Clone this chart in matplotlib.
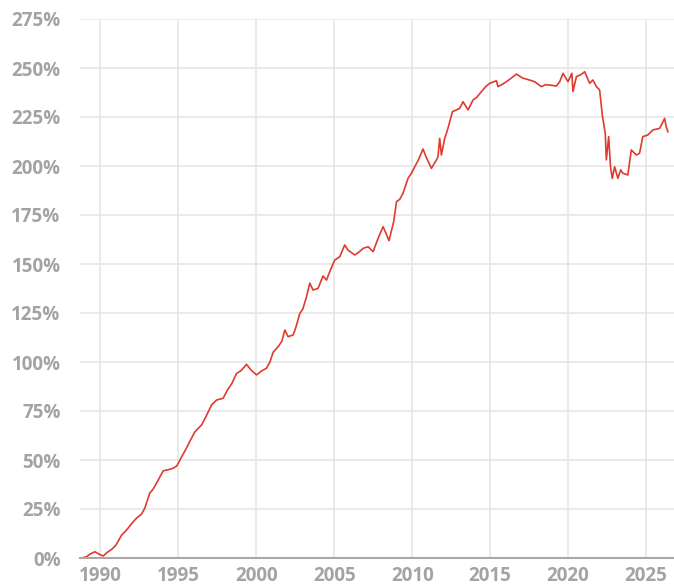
import matplotlib
matplotlib.use("Agg")
import matplotlib.pyplot as plt
from matplotlib.ticker import FuncFormatter

years = [1988.81, 1989.12, 1989.33, 1989.65, 1989.90, 1990.18, 1990.42, 1990.72, 1990.99,
         1991.36, 1991.70, 1992.10, 1992.34, 1992.64, 1992.85, 1993.17, 1993.37, 1993.62,
         1994.03, 1994.33, 1994.67, 1994.90, 1995.10, 1995.48, 1995.80, 1996.06, 1996.49,
         1996.76, 1997.13, 1997.45, 1997.87, 1998.17, 1998.43, 1998.73, 1999.01, 1999.37,
         1999.65, 2000.01, 2000.35, 2000.65, 2000.87, 2001.08, 2001.40, 2001.63, 2001.83,
         2002.04, 2002.36, 2002.53, 2002.79, 2002.98, 2003.22, 2003.43, 2003.64, 2003.96,
         2004.28, 2004.50, 2004.78, 2005.03, 2005.35, 2005.67, 2005.88, 2006.31, 2006.57,
         2006.85, 2007.17, 2007.49, 2007.81, 2008.13, 2008.30, 2008.51, 2008.81, 2008.99,
         2009.20, 2009.41, 2009.73, 2009.95, 2010.16, 2010.42, 2010.69, 2010.87, 2011.23,
         2011.55, 2011.65, 2011.76, 2011.87, 2012.08, 2012.29, 2012.58, 2012.79, 2013.04,
         2013.26, 2013.58, 2013.90, 2014.13, 2014.44, 2014.71, 2014.97, 2015.40, 2015.50,
         2015.74, 2016.04, 2016.38, 2016.68, 2017.10, 2017.47, 2017.85, 2018.28, 2018.56,
         2018.81, 2019.24, 2019.46, 2019.67, 2019.99, 2020.24, 2020.31, 2020.53, 2020.80,
         2021.06, 2021.38, 2021.59, 2021.81, 2022.02, 2022.19, 2022.38, 2022.45, 2022.60,
         2022.72, 2022.83, 2022.98, 2023.19, 2023.37, 2023.51, 2023.83, 2024.05, 2024.37,
         2024.58, 2024.79, 2025.11, 2025.44, 2025.87, 2026.19, 2026.29, 2026.40]

values = [0.0, 0.7, 2.0, 3.2, 2.0, 1.0, 2.8, 4.4, 6.5,
          11.7, 14.5, 18.5, 20.5, 22.4, 25.5, 33.2, 35.0, 38.5,
          44.5, 45.0, 45.8, 47.0, 50.0, 55.5, 60.5, 64.4, 67.9,
          72.0, 78.1, 80.6, 81.5, 86.0, 89.0, 94.2, 95.5, 98.8,
          96.0, 93.4, 95.5, 96.8, 100.0, 105.0, 107.8, 110.5, 116.3,
          112.9, 113.8, 117.5, 124.8, 127.0, 133.3, 140.2, 136.7, 137.6,
          143.9, 141.8, 147.5, 152.0, 153.7, 159.7, 157.1, 154.6, 156.0,
          158.0, 158.8, 156.3, 163.1, 169.0, 166.0, 161.9, 171.6, 181.8,
          183.0, 186.1, 193.7, 196.3, 199.6, 203.5, 208.7, 205.0, 198.8,
          203.1, 204.7, 214.1, 205.6, 214.0, 219.2, 227.7, 228.5, 229.4,
          232.8, 228.6, 233.7, 235.0, 237.9, 240.5, 242.2, 243.5, 240.5,
          241.5, 243.0, 245.0, 246.9, 244.8, 244.0, 243.0, 240.5, 241.5,
          241.3, 240.8, 243.0, 247.3, 243.0, 247.3, 238.0, 245.6, 246.5,
          248.1, 242.2, 243.9, 240.5, 238.8, 226.0, 216.7, 203.1, 215.0,
          199.6, 193.7, 199.6, 193.7, 198.0, 196.3, 195.4, 208.2, 205.6,
          206.5, 215.0, 215.8, 218.4, 219.2, 224.3, 220.0, 217.5]

x_ticks = [1990, 1995, 2000, 2005, 2010, 2015, 2020, 2025]
y_ticks = [0, 25, 50, 75, 100, 125, 150, 175, 200, 225, 250, 275]

plt.rcParams['font.family'] = ['Open Sans', 'DejaVu Sans']

fig = plt.figure(figsize=(6.74, 5.87), dpi=100)
ax = fig.add_axes([80 / 674, 29 / 587, 594 / 674, 539 / 587])

ax.plot(years, values, color='#e03a2e', linewidth=1.2, solid_joinstyle='round')

ax.set_xlim(1988.69, 2026.79)
ax.set_ylim(0, 275)
ax.set_xticks(x_ticks)
ax.set_yticks(y_ticks)
ax.yaxis.set_major_formatter(FuncFormatter(lambda v, p: f"{int(v)}%"))

ax.grid(True, color='#e6e6e6', linewidth=1.2)
ax.set_axisbelow(True)
for s in ['top', 'right', 'left']:
    ax.spines[s].set_visible(False)
ax.spines['bottom'].set_color('#a8a8a8')
ax.spines['bottom'].set_linewidth(1.5)

ax.tick_params(axis='both', length=0, labelsize=13.5, labelcolor='#a3a3a3')
ax.tick_params(axis='y', pad=14)
ax.tick_params(axis='x', pad=6)
for lbl in ax.get_xticklabels() + ax.get_yticklabels():
    lbl.set_fontweight('bold')

fig.savefig('out.png', dpi=100)
